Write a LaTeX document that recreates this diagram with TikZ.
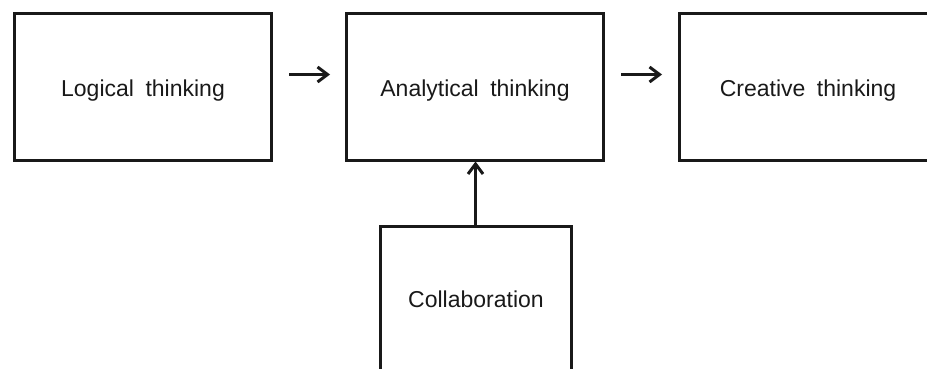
\documentclass[tikz,border=0pt]{standalone}
\usepackage{fontspec}
\setmainfont{Liberation Sans}
\usetikzlibrary{arrows.meta}
\begin{document}
\begin{tikzpicture}[x=1pt,y=-1pt,
  box/.style={draw=black!90, line width=3pt, minimum width=257pt, minimum height=146.5pt, inner sep=0pt, text height=19pt, text depth=0pt, font=\fontsize{23}{27}\selectfont, text=black!90},
  cbox/.style={box, minimum width=191pt, minimum height=160pt, text height=10pt, text depth=9pt},
  conn/.style={draw=black!90, line width=3pt, -{Straight Barb[length=10pt,width=15pt,line width=3pt]}}]
\useasboundingbox (0,0) rectangle (927,369);
\clip (0,0) rectangle (927,369);
\node[box] (logic) at (143,86.75) {Logical\hspace{0.5em}thinking};
\node[box] (anal) at (475,86.75) {Analytical\hspace{0.5em}thinking};
\node[box] (creat) at (808,86.75) {Creative\hspace{0.5em}thinking};
\node[cbox] (collab) at (476,306.5) {Collaboration};
\coordinate (a1s) at (289,74.5);
\coordinate (a1e) at (330,74.5);
\coordinate (a2s) at (621,74.5);
\coordinate (a2e) at (662,74.5);
\draw[conn] (a1s) -- (a1e);
\draw[conn] (a2s) -- (a2e);
\draw[conn] (collab.north -| 475.5,0) -- (anal.south -| 475.5,0);
\end{tikzpicture}
\end{document}
